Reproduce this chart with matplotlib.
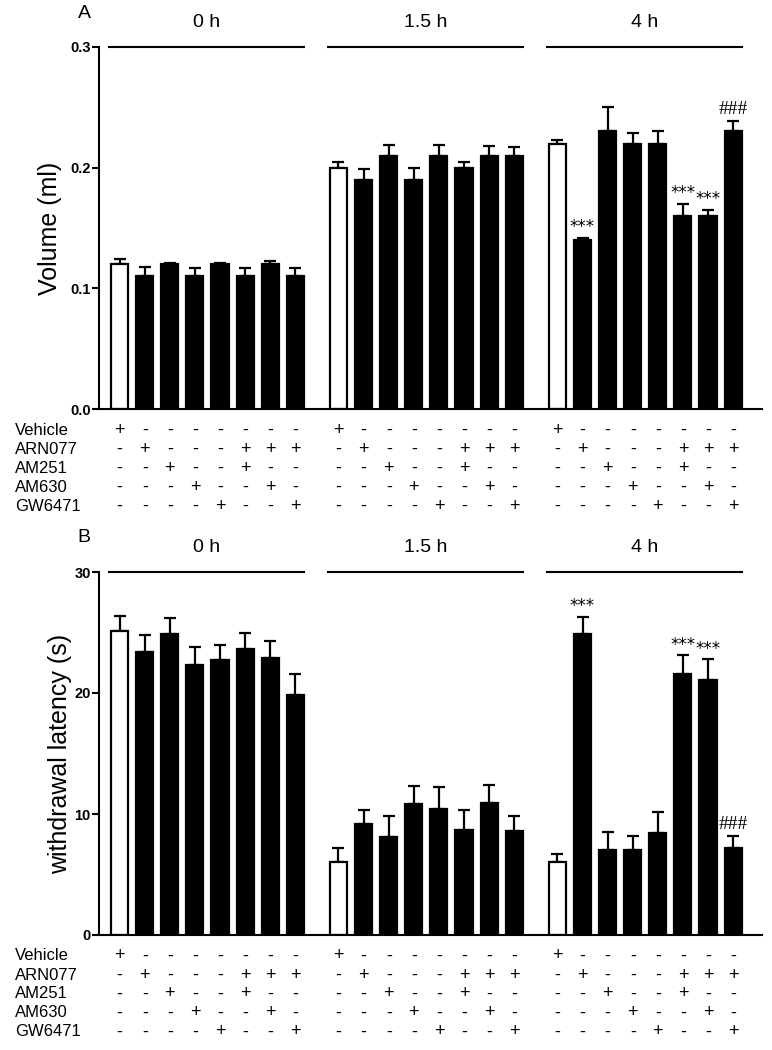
import matplotlib
matplotlib.use("Agg")
import matplotlib.pyplot as plt
import numpy as np

plt.rcParams['font.family'] = ['Liberation Sans', 'DejaVu Sans']

groups = ["0 h", "1.5 h", "4 h"]
treatments = ["Vehicle", "ARN077", "AM251", "AM630", "GW6471"]
# combination table (rows = treatments, columns = bars within a group)
combo = [
    ["+", "-", "-", "-", "-", "-", "-", "-"],
    ["-", "+", "-", "-", "-", "+", "+", "+"],
    ["-", "-", "+", "-", "-", "+", "-", "-"],
    ["-", "-", "-", "+", "-", "-", "+", "-"],
    ["-", "-", "-", "-", "+", "-", "-", "+"],
]

vol_mean = [
    [0.12, 0.11, 0.12, 0.11, 0.12, 0.11, 0.12, 0.11],
    [0.20, 0.19, 0.21, 0.19, 0.21, 0.20, 0.21, 0.21],
    [0.22, 0.14, 0.23, 0.22, 0.22, 0.16, 0.16, 0.23],
]
vol_err = [
    [0.004, 0.008, 0.001, 0.007, 0.001, 0.007, 0.003, 0.007],
    [0.005, 0.009, 0.009, 0.010, 0.009, 0.005, 0.008, 0.007],
    [0.003, 0.002, 0.020, 0.009, 0.010, 0.010, 0.005, 0.009],
]
vol_marks = [
    ["", "", "", "", "", "", "", ""],
    ["", "", "", "", "", "", "", ""],
    ["", "***", "", "", "", "***", "***", "###"],
]

lat_mean = [
    [25.1, 23.4, 24.9, 22.3, 22.7, 23.6, 22.9, 19.8],
    [6.0, 9.2, 8.1, 10.8, 10.4, 8.7, 10.9, 8.6],
    [6.0, 24.9, 7.0, 7.0, 8.4, 21.6, 21.1, 7.2],
]
lat_err = [
    [1.3, 1.4, 1.3, 1.5, 1.3, 1.4, 1.4, 1.8],
    [1.2, 1.1, 1.7, 1.5, 1.8, 1.6, 1.5, 1.2],
    [0.7, 1.4, 1.5, 1.2, 1.8, 1.5, 1.7, 1.0],
]
lat_marks = [
    ["", "", "", "", "", "", "", ""],
    ["", "", "", "", "", "", "", ""],
    ["", "***", "", "", "", "***", "***", "###"],
]

W, H = 772, 1050
fig = plt.figure(figsize=(W / 100, H / 100), dpi=100)

GROUP_STEP = 8.72
BAR_W = 0.68
XMIN, XMAX = -0.82, 2 * GROUP_STEP + 7 + 1.15
AX_W_PX = 663


def panel(ax_rect, means, errs, marks, ylim, yticks, yticklabels, ylabel,
          letter, ylabel_right_px):
    ax = fig.add_axes(ax_rect)
    ymax = ylim[1]
    for g, gname in enumerate(groups):
        n = len(means[g])
        xs = g * GROUP_STEP + np.arange(n)
        colors = ["white"] + ["black"] * (n - 1)
        ax.bar(xs, means[g], width=BAR_W, color=colors, edgecolor="black",
               linewidth=1.6, zorder=2)
        lower = np.zeros(n)
        ax.errorbar(xs, means[g], yerr=[lower, errs[g]], fmt="none",
                    ecolor="black", elinewidth=1.6, capsize=4.3,
                    capthick=1.6, zorder=1)
        for i in range(n):
            m = marks[g][i]
            if m:
                top = means[g][i] + errs[g][i]
                if m.startswith("#"):
                    ax.annotate(m, xy=(xs[i], top), xytext=(0, 5),
                                textcoords="offset points", ha="center",
                                va="baseline", fontsize=14,
                                family=["Liberation Serif"])
                else:
                    ax.annotate(m, xy=(xs[i], top), xytext=(0, 4),
                                textcoords="offset points", ha="center",
                                va="baseline", fontsize=12,
                                family=["DejaVu Sans"])
        x0 = g * GROUP_STEP - 0.42
        x1 = g * GROUP_STEP + 7.35
        ax.plot([x0, x1], [ymax, ymax], color="black", lw=1.5,
                clip_on=False, zorder=3)
        ax.text((x0 + x1) / 2, ymax + ymax * 0.045, gname, ha="center",
                va="bottom", fontsize=14)
        # combination table
        for r in range(len(treatments)):
            for i in range(n):
                ax.annotate(combo[r][i], xy=(xs[i], 0), xycoords="data",
                            xytext=(0, -(21 + 19 * r) * 0.72),
                            textcoords="offset points", ha="center",
                            va="center", fontsize=13, annotation_clip=False)
    for r, t in enumerate(treatments):
        ax.annotate(t, xy=(0, 0), xycoords="axes fraction",
                    xytext=(-84 * 0.72, -(21 + 19 * r) * 0.72),
                    textcoords="offset points", ha="left", va="center",
                    fontsize=12, annotation_clip=False)
    ax.set_xlim(XMIN, XMAX)
    ax.set_ylim(*ylim)
    ax.set_yticks(yticks)
    ax.set_yticklabels(yticklabels, fontweight="bold", fontsize=10.5)
    ax.set_xticks([])
    ax.spines["top"].set_visible(False)
    ax.spines["right"].set_visible(False)
    ax.spines["left"].set_linewidth(1.5)
    ax.spines["bottom"].set_linewidth(1.5)
    ax.tick_params(axis="y", direction="out", length=5, width=1.5, pad=1)
    ax.set_ylabel(ylabel, fontsize=18)
    ax.yaxis.set_label_coords(-(99 - ylabel_right_px) / AX_W_PX, 0.5)
    ax.text(-15 / AX_W_PX, 1.0 + 34 / 362, letter, transform=ax.transAxes,
            fontsize=14, ha="center", va="center")
    return ax


left = 99 / W
width = AX_W_PX / W
panel([left, 1 - 409 / H, width, 362 / H], vol_mean, vol_err, vol_marks,
      (0, 0.3), [0.0, 0.1, 0.2, 0.3], ["0.0", "0.1", "0.2", "0.3"],
      "Volume (ml)", "A", 62)
panel([left, 1 - 935 / H, width, 363 / H], lat_mean, lat_err, lat_marks,
      (0, 30), [0, 10, 20, 30], ["0", "10", "20", "30"],
      "withdrawal latency (s)", "B", 72)

fig.savefig("out.png", dpi=100)
